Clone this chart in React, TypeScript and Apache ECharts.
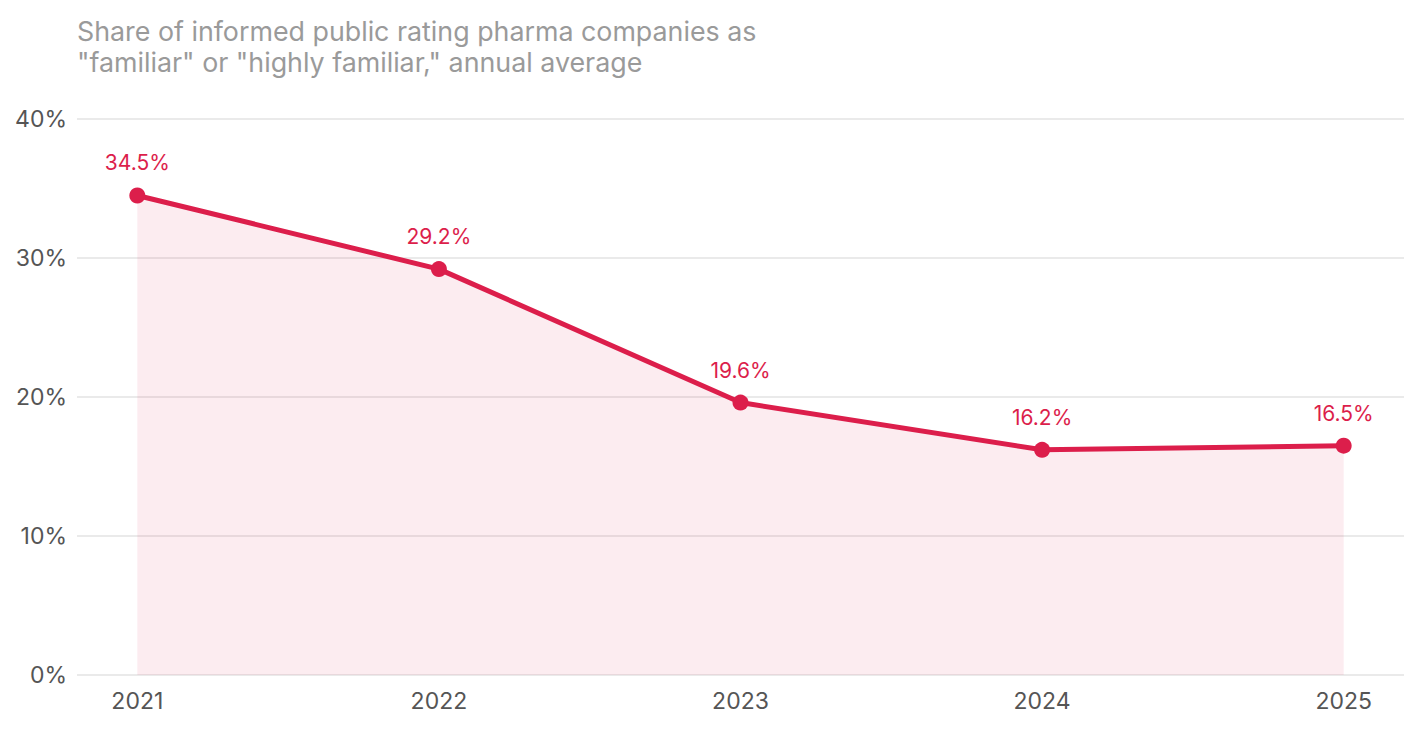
import React, { useEffect, useRef } from "react";
import * as echarts from "echarts";

const years = [2021, 2022, 2023, 2024, 2025];
const shares = [34.5, 29.2, 19.6, 16.2, 16.5];
const yTicks = [0, 10, 20, 30, 40];
const titleLines = [
  "Share of informed public rating pharma companies as",
  "\"familiar\" or \"highly familiar,\" annual average",
];

const FONT = "Inter, 'Open Sans', sans-serif";
const RED = "#dc1e4b";

export default function App() {
  const ref = useRef<HTMLDivElement>(null);
  useEffect(() => {
    if (!ref.current) return;
    const chart = echarts.init(ref.current, undefined, { renderer: "svg" });
    chart.setOption({
      animation: false,
      textStyle: { fontFamily: FONT },
      title: {
        text: titleLines.join("\n"),
        left: 64,
        top: 2,
        textStyle: {
          fontFamily: FONT,
          fontSize: 26.8,
          fontWeight: 400,
          color: "#9a9a9a",
          lineHeight: 31,
        },
      },
      grid: { left: 69, right: 10, top: 111, bottom: 51, containLabel: false },
      xAxis: {
        type: "value",
        min: 2020.8,
        max: 2025.2,
        axisLine: { show: false },
        axisTick: { show: false },
        splitLine: { show: false },
        axisLabel: {
          customValues: years,
          formatter: (v: number) => String(v),
          fontFamily: FONT,
          fontSize: 23,
          color: "#555555",
          margin: 14,
        },
      },
      yAxis: {
        type: "value",
        min: 0,
        max: 40,
        interval: 10,
        axisLine: { show: false },
        axisTick: { show: false },
        splitLine: { lineStyle: { color: "#e3e3e3", width: 1.5 } },
        axisLabel: {
          customValues: yTicks,
          formatter: (v: number) => v + "%",
          fontFamily: FONT,
          fontSize: 23,
          color: "#555555",
          margin: 10,
        },
      },
      series: [
        {
          type: "line",
          data: years.map((y, i) => [y, shares[i]]),
          symbol: "circle",
          symbolSize: 16,
          itemStyle: { color: RED },
          lineStyle: { color: RED, width: 5 },
          areaStyle: { color: "rgba(220,30,75,0.12)" },
          label: {
            show: true,
            position: "top",
            distance: 14,
            formatter: (p: any) => p.value[1].toFixed(1) + "%",
            fontFamily: FONT,
            fontSize: 21,
            color: RED,
          },
        },
      ],
    });
    return () => chart.dispose();
  }, []);
  return <div ref={ref} style={{ width: 1406, height: 718 }} />;
}
